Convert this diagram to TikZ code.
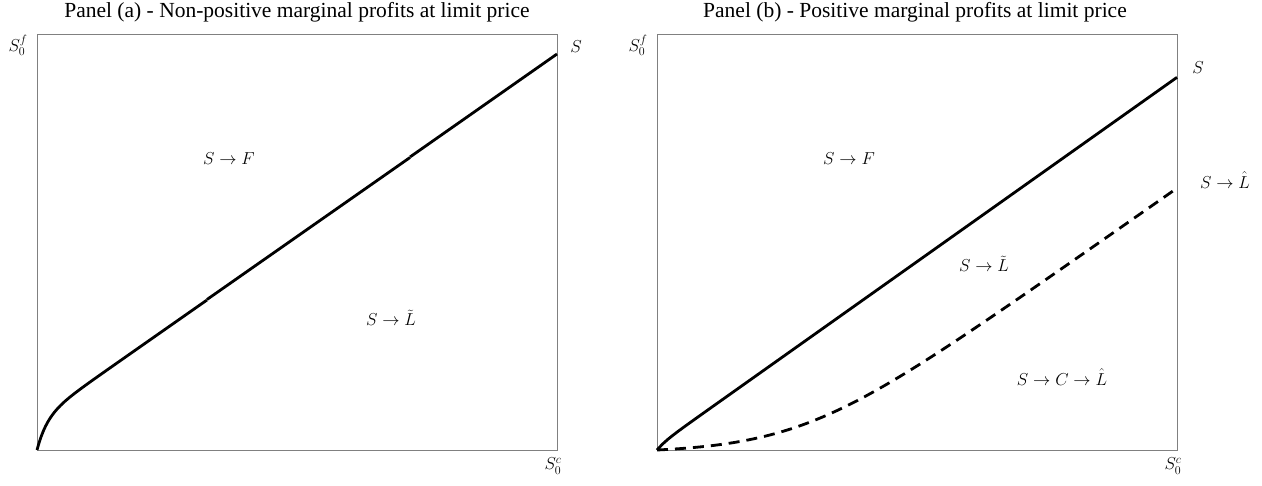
\documentclass[tikz,border=0pt]{standalone}
\usepackage{fontspec}
\setmainfont{Liberation Serif}
\begin{document}
\begin{tikzpicture}[x=1pt,y=-1pt,
  frame/.style={draw=black!50,line width=1pt},
  curve/.style={line width=2.8pt,line join=round},
  dcurve/.style={line width=2.8pt,dash pattern=on 11pt off 7pt},
  ttl/.style={inner sep=0pt,font=\fontsize{21.5}{24}\selectfont},
  lbl/.style={inner sep=0pt,font=\fontsize{17}{20}\selectfont},
  axl/.style={inner sep=0pt,font=\fontsize{17}{20}\selectfont}]
\useasboundingbox (0,0) rectangle (1262,485);
% Panel (a)
\node[ttl] (ta) at (297,12) {Panel (a) - Non-positive marginal profits at limit price};
\draw[frame] (37,34) rectangle (557,450);
\node[axl] (yfa) at (18,45) {$S_0^f$};
\node[axl] (xca) at (553,466) {$S_0^c$};
\node[axl] (sa) at (576,47) {$S$};
\node[lbl] (fa) at (229,159) {$S\rightarrow F$};
\node[lbl] (la) at (391,318) {$S\rightarrow \tilde{L}$};
\draw[curve] plot[domain=37:207,samples=80] (\x,{450-(0.7*(\x-37)+31*(1-exp(-(\x-37)/10)))});
\draw[curve] (207,299.5) -- (410,157.5);
\draw[curve] (410,157) -- (557,54);
% Panel (b)
\node[ttl] (tb) at (915,12) {Panel (b) - Positive marginal profits at limit price};
\draw[frame] (657,34) rectangle (1177,450);
\node[axl] (yfb) at (638,45) {$S_0^f$};
\node[axl] (xcb) at (1173,466) {$S_0^c$};
\node[axl] (sb) at (1198,68) {$S$};
\node[lbl] (fb) at (849,159) {$S\rightarrow F$};
\node[lbl] (lb) at (984,264) {$S\rightarrow \tilde{L}$};
\node[lbl] (hb) at (1225,180) {$S\rightarrow \hat{L}$};
\node[lbl] (cb) at (1062,377) {$S\rightarrow C\rightarrow \hat{L}$};
\draw[curve] plot[domain=657:1177,samples=100] (\x,{450-(0.709*(\x-657)+4*(1-exp(-(\x-657)/8)))});
\draw[dcurve] plot[domain=657:1177,samples=120] (\x,{450-0.7*55*ln(1+exp((\x-799)/55))+0.7*55*ln(1+exp(-142/55))});
\end{tikzpicture}
\end{document}
